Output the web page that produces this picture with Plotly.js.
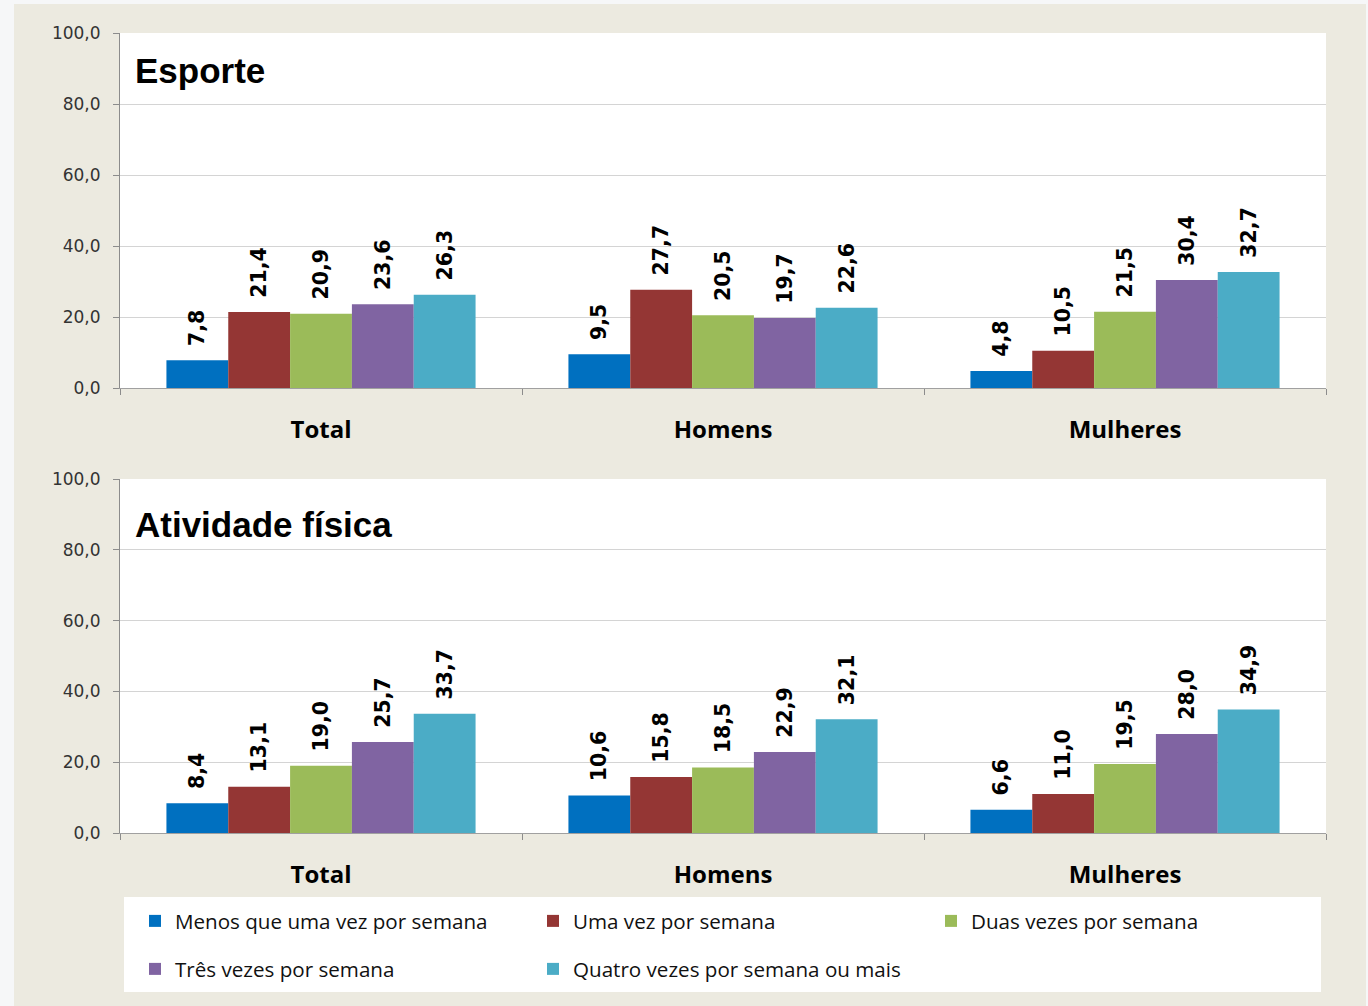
<!DOCTYPE html>
<html>
<head>
<meta charset="utf-8">
<script src="https://cdn.plot.ly/plotly-3.0.1.min.js"></script>
<style>
  html, body { margin: 0; padding: 0; background: #F6F7F8; width: 1368px; height: 1006px; overflow: hidden; }
  #chart { position: absolute; left: 14px; top: 4px; width: 1352px; height: 1002px; }
</style>
</head>
<body>
<div id="chart"></div>
<script>
// ---- Data ----
const categories = ["Total", "Homens", "Mulheres"];
const seriesNames = [
  "Menos que uma vez por semana",
  "Uma vez por semana",
  "Duas vezes por semana",
  "Três vezes por semana",
  "Quatro vezes por semana ou mais"
];
const seriesColors = ["#0070C0", "#943634", "#9BBB59", "#8064A2", "#4BACC6"];

const esporteMenos  = [7.8, 9.5, 4.8];
const esporteUma    = [21.4, 27.7, 10.5];
const esporteDuas   = [20.9, 20.5, 21.5];
const esporteTres   = [23.6, 19.7, 30.4];
const esporteQuatro = [26.3, 22.6, 32.7];

const atividadeMenos  = [8.4, 10.6, 6.6];
const atividadeUma    = [13.1, 15.8, 11.0];
const atividadeDuas   = [19.0, 18.5, 19.5];
const atividadeTres   = [25.7, 22.9, 28.0];
const atividadeQuatro = [33.7, 32.1, 34.9];

const panelTitles = ["Esporte", "Atividade física"];
const yTicks = [0, 20, 40, 60, 80, 100];

// ---- Build traces ----
const esporte = [esporteMenos, esporteUma, esporteDuas, esporteTres, esporteQuatro];
const atividade = [atividadeMenos, atividadeUma, atividadeDuas, atividadeTres, atividadeQuatro];

const labelFont = { family: "DejaVu Sans", size: 20.5, color: "#000000", weight: "bold" };

function makeTrace(vals, i, xa, ya, showLegend) {
  return {
    type: "bar",
    x: categories,
    y: vals,
    name: seriesNames[i],
    legendgroup: "s" + i,
    legend: i < 3 ? "legend" : "legend2",
    showlegend: showLegend,
    xaxis: xa,
    yaxis: ya,
    marker: { color: seriesColors[i], line: { width: 0 } },
    texttemplate: "\u00a0\u2009%{y:.1f}",
    textposition: "outside",
    textangle: -90,
    constraintext: "none",
    cliponaxis: false,
    textfont: labelFont,
    hoverinfo: "skip"
  };
}

const traces = [];
esporte.forEach((v, i) => traces.push(makeTrace(v, i, "x", "y", true)));
atividade.forEach((v, i) => traces.push(makeTrace(v, i, "x2", "y2", false)));

// ---- Layout ----
const W = 1352, H = 1002;
const mL = 106, mR = 40, mT = 29, mB = 173;
const plotW = W - mL - mR, plotH = H - mT - mB;
const px = (x) => (x - mL) / plotW;           // local px -> paper x
const py = (y) => (H - mB - y) / plotH;       // local px -> paper y

const xAxisBase = {
  type: "category",
  tickson: "boundaries",
  ticks: "outside",
  ticklen: 6,
  tickcolor: "#8C8C8C",
  showline: true,
  linecolor: "#A0A0A0",
  linewidth: 1,
  showgrid: false,
  ticklabelstandoff: 20,
  tickfont: { family: "Open Sans", size: 24, color: "#000000", weight: "bold" },
  fixedrange: true
};
const yAxisBase = {
  range: [0, 100],
  tickvals: yTicks,
  tickformat: ".1f",
  ticks: "outside",
  ticklen: 6,
  tickcolor: "#8C8C8C",
  showline: true,
  linecolor: "#8C8C8C",
  linewidth: 1,
  showgrid: true,
  gridcolor: "#D4D4D4",
  gridwidth: 1,
  zeroline: false,
  ticklabelstandoff: 9,
  tickfont: { family: "DejaVu Sans", size: 17, color: "#333333" },
  fixedrange: true
};

const legendBase = {
  orientation: "h",
  bgcolor: "rgba(0,0,0,0)",
  borderwidth: 0,
  font: { family: "Open Sans", size: 20.6, color: "#111111" },
  entrywidth: 353,
  entrywidthmode: "pixels",
  xanchor: "left",
  yanchor: "middle",
  traceorder: "normal",
  itemclick: false,
  itemdoubleclick: false
};

const layout = {
  width: W,
  height: H,
  margin: { l: mL, r: mR, t: mT, b: mB, pad: 0 },
  paper_bgcolor: "#ECEAE0",
  plot_bgcolor: "#FFFFFF",
  separators: ",.",
  barmode: "group",
  bargap: 0.231,
  bargroupgap: 0,
  showlegend: true,
  font: { family: "Open Sans" },
  xaxis: Object.assign({}, xAxisBase, { domain: [0, 1], anchor: "y" }),
  yaxis: Object.assign({}, yAxisBase, { domain: [py(384), 1], anchor: "x" }),
  xaxis2: Object.assign({}, xAxisBase, { domain: [0, 1], anchor: "y2" }),
  yaxis2: Object.assign({}, yAxisBase, { domain: [0, py(475)], anchor: "x2" }),
  legend: Object.assign({}, legendBase, { x: px(121), y: py(917) }),
  legend2: Object.assign({}, legendBase, { x: px(121), y: py(965) }),
  shapes: [
    {
      type: "rect", xref: "paper", yref: "paper",
      x0: px(110), x1: px(1307), y0: py(988), y1: py(893),
      fillcolor: "#FFFFFF", line: { width: 0 }, layer: "below"
    }
  ],
  annotations: [
    {
      text: panelTitles[0], xref: "paper", yref: "paper",
      x: px(120), y: py(66), xanchor: "left", yanchor: "middle",
      showarrow: false, borderpad: 0,
      font: { family: "Liberation Sans", size: 35, color: "#000000", weight: "bold" }
    },
    {
      text: panelTitles[1], xref: "paper", yref: "paper",
      x: px(120), y: py(520), xanchor: "left", yanchor: "middle",
      showarrow: false, borderpad: 0,
      font: { family: "Liberation Sans", size: 35, color: "#000000", weight: "bold" }
    }
  ]
};

Plotly.newPlot("chart", traces, layout, { displayModeBar: false, staticPlot: true });
</script>
</body>
</html>
